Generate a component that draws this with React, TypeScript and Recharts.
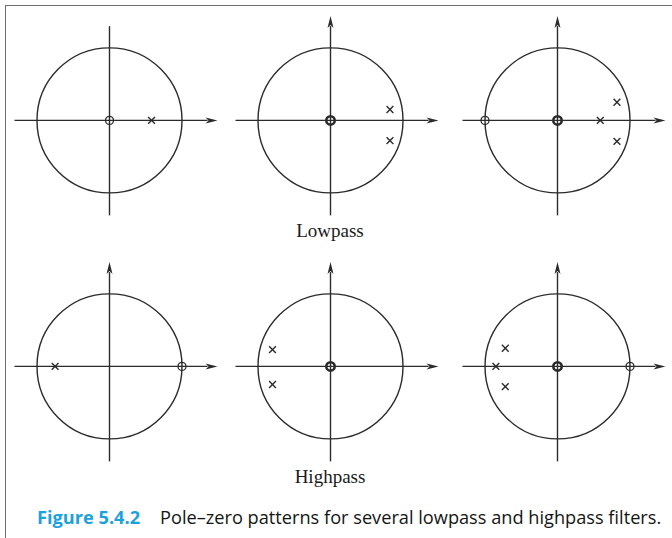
import { ScatterChart, Scatter, XAxis, YAxis, ReferenceLine, ReferenceDot } from 'recharts';

type Pt = { x: number; y: number; order?: number };

// lowpass row (zeros carry their multiplicity in `order`)
const lp1Zeros: Pt[] = [{ x: 0, y: 0, order: 1 }];
const lp1Poles: Pt[] = [{ x: 0.58, y: 0 }];
const lp2Zeros: Pt[] = [{ x: 0, y: 0, order: 2 }];
const lp2Poles: Pt[] = [{ x: 0.82, y: 0.15 }, { x: 0.82, y: -0.28 }];
const lp3Zeros: Pt[] = [{ x: -1, y: 0, order: 1 }, { x: 0, y: 0, order: 2 }];
const lp3Poles: Pt[] = [{ x: 0.59, y: 0 }, { x: 0.82, y: 0.25 }, { x: 0.82, y: -0.29 }];

// highpass row
const hp1Zeros: Pt[] = [{ x: 1, y: 0, order: 1 }];
const hp1Poles: Pt[] = [{ x: -0.75, y: 0 }];
const hp2Zeros: Pt[] = [{ x: 0, y: 0, order: 2 }];
const hp2Poles: Pt[] = [{ x: -0.8, y: 0.23 }, { x: -0.8, y: -0.25 }];
const hp3Zeros: Pt[] = [{ x: 1, y: 0, order: 1 }, { x: 0, y: 0, order: 2 }];
const hp3Poles: Pt[] = [{ x: -0.85, y: 0 }, { x: -0.72, y: 0.25 }, { x: -0.72, y: -0.28 }];

const rowLabels = ['Lowpass', 'Highpass'];
const figNumber = 'Figure 5.4.2';
const figCaption = 'Pole–zero patterns for several lowpass and highpass filters.';

// z-plane extents (unit circle = 1)
const X_DOMAIN: [number, number] = [-1.4, 1.6];
const Y_DOMAIN: [number, number] = [-1.4, 1.55];
const RE_AXIS: [number, number] = [-1.31, 1.49];
const IM_AXIS: [number, number] = [-1.31, 1.44];
const IM_AXIS_PLAIN = 1.3;

const UNIT = 72.5; // px per unit
const W = (X_DOMAIN[1] - X_DOMAIN[0]) * UNIT;
const H = (Y_DOMAIN[1] - Y_DOMAIN[0]) * UNIT;
const INK = '#2b2b2b';

const arrowShape = (withHead: boolean) => (p: any) => {
  const { x1, y1, x2, y2 } = p;
  const ang = Math.atan2(y2 - y1, x2 - x1);
  const len = 12;
  const hw = 3;
  const bx = x2 - len * Math.cos(ang);
  const by = y2 - len * Math.sin(ang);
  const nx = -Math.sin(ang) * hw;
  const ny = Math.cos(ang) * hw;
  return (
    <g>
      <line x1={x1} y1={y1} x2={withHead ? bx + 2 * Math.cos(ang) : x2} y2={withHead ? by + 2 * Math.sin(ang) : y2} stroke={INK} strokeWidth={1.4} />
      {withHead && (
        <polygon points={`${x2},${y2} ${bx + nx},${by + ny} ${bx + 3 * Math.cos(ang)},${by + 3 * Math.sin(ang)} ${bx - nx},${by - ny}`} fill={INK} />
      )}
    </g>
  );
};

const ZeroMark = (p: any) => {
  const double = p.payload && p.payload.order === 2;
  return <circle cx={p.cx} cy={p.cy} r={double ? 4.2 : 4} fill="none" stroke={INK} strokeWidth={double ? 2.6 : 1.3} />;
};

const PoleMark = (p: any) => {
  const s = 3.4;
  return (
    <g stroke={INK} strokeWidth={1.4}>
      <line x1={p.cx - s} y1={p.cy - s} x2={p.cx + s} y2={p.cy + s} />
      <line x1={p.cx - s} y1={p.cy + s} x2={p.cx + s} y2={p.cy - s} />
    </g>
  );
};

function PoleZeroPlot({ cx, cy, zeros, poles, imArrow = true }: { cx: number; cy: number; zeros: Pt[]; poles: Pt[]; imArrow?: boolean }) {
  return (
    <div style={{ position: 'absolute', left: cx + X_DOMAIN[0] * UNIT, top: cy - Y_DOMAIN[1] * UNIT }}>
      <ScatterChart width={W} height={H} margin={{ top: 0, right: 0, bottom: 0, left: 0 }}>
        <XAxis type="number" dataKey="x" domain={X_DOMAIN} hide allowDataOverflow />
        <YAxis type="number" dataKey="y" domain={Y_DOMAIN} hide allowDataOverflow />
        <ReferenceDot x={0} y={0} r={UNIT} fill="none" stroke={INK} strokeWidth={1.4} />
        <ReferenceLine segment={[{ x: RE_AXIS[0], y: 0 }, { x: RE_AXIS[1], y: 0 }]} shape={arrowShape(true)} />
        <ReferenceLine
          segment={[{ x: 0, y: IM_AXIS[0] }, { x: 0, y: imArrow ? IM_AXIS[1] : IM_AXIS_PLAIN }]}
          shape={arrowShape(imArrow)}
        />
        <Scatter data={zeros} shape={ZeroMark} isAnimationActive={false} />
        <Scatter data={poles} shape={PoleMark} isAnimationActive={false} />
      </ScatterChart>
    </div>
  );
}

export default function App() {
  return (
    <div style={{ position: 'absolute', left: 0, top: 0, width: 672, height: 538, background: '#fff', overflow: 'hidden' }}>
      <div
        style={{
          position: 'absolute', left: 5, top: 5, width: 667, height: 533, boxSizing: 'border-box',
          borderTop: '1.5px solid #6e6e6e', borderLeft: '1.5px solid #6e6e6e',
        }}
      />
      <PoleZeroPlot cx={109} cy={120} zeros={lp1Zeros} poles={lp1Poles} imArrow={false} />
      <PoleZeroPlot cx={330} cy={120} zeros={lp2Zeros} poles={lp2Poles} />
      <PoleZeroPlot cx={557.5} cy={120} zeros={lp3Zeros} poles={lp3Poles} />
      <PoleZeroPlot cx={109} cy={366.5} zeros={hp1Zeros} poles={hp1Poles} />
      <PoleZeroPlot cx={330} cy={366.5} zeros={hp2Zeros} poles={hp2Poles} />
      <PoleZeroPlot cx={557.5} cy={366.5} zeros={hp3Zeros} poles={hp3Poles} />
      <svg width={672} height={538} style={{ position: 'absolute', left: 0, top: 0, pointerEvents: 'none' }}>
        <text x={330} y={237} textAnchor="middle" fontFamily="Liberation Serif" fontSize={19} fill="#1a1a1a">{rowLabels[0]}</text>
        <text x={330} y={483} textAnchor="middle" fontFamily="Liberation Serif" fontSize={19} fill="#1a1a1a">{rowLabels[1]}</text>
        <text x={37} y={524} fontFamily="Open Sans" fontSize={18.2}>
          <tspan fill="#1ba1db" fontWeight="bold">{figNumber}</tspan>
          <tspan x={160} fill="#151515">{figCaption}</tspan>
        </text>
      </svg>
    </div>
  );
}
